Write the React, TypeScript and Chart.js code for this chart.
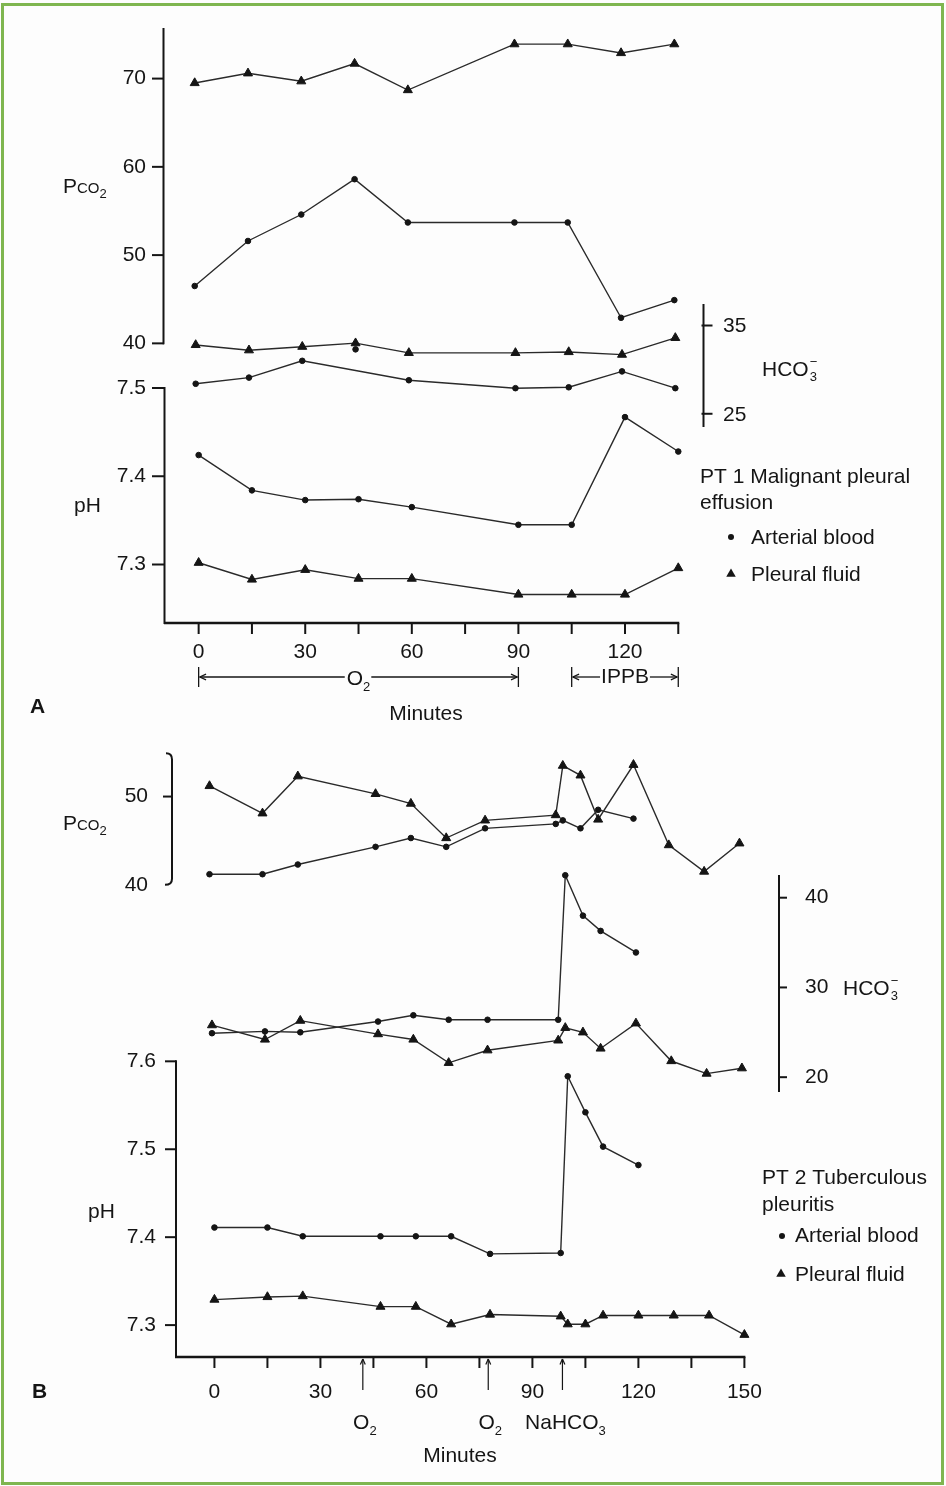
import { useEffect, useRef } from 'react';
import { Chart, registerables } from 'chart.js';

Chart.register(...registerables);

const W = 946;
const H = 1486;
const FONT = '"Liberation Sans", Arial, Helvetica, sans-serif';
const INK = '#151515';
const FS = 21;

// ---------------- Panel A: PT 1 Malignant pleural effusion ----------------
const timesA = [0, 15, 30, 45, 60, 90, 105, 120, 135];
const pco2PleuralA = [69.5, 70.6, 69.7, 71.7, 68.7, 73.9, 73.9, 72.9, 73.9];
const pco2ArterialA = [46.5, 51.6, 54.6, 58.6, 53.7, 53.7, 53.7, 42.9, 44.9];
const hco3PleuralA = [32.8, 32.2, 32.6, 33.0, 31.9, 31.9, 32.0, 31.7, 33.6];
const timesHco3ArterialA = [0, 15, 30, 60, 90, 105, 120, 135];
const hco3ArterialA = [28.4, 29.1, 31.0, 28.8, 27.9, 28.0, 29.8, 27.9];
const timesHco3ArterialAExtra = [45];
const hco3ArterialAExtra = [32.3];
const phArterialA = [7.424, 7.384, 7.373, 7.374, 7.365, 7.345, 7.345, 7.467, 7.428];
const phPleuralA = [7.302, 7.283, 7.294, 7.284, 7.284, 7.266, 7.266, 7.266, 7.296];

const xTickMarksA = [0, 15, 30, 45, 60, 75, 90, 105, 120, 135];
const xTickLabelsA = [0, 30, 60, 90, 120];
const pco2TicksA = [70, 60, 50, 40];
const phTicksA = ['7.5', '7.4', '7.3'];
const hco3TicksA = [35, 25];
const o2SpanA = [0, 90];
const ippbSpanA = [105, 135];

// ---------------- Panel B: PT 2 Tuberculous pleuritis ----------------
const timesPleuralB = [0, 15, 25, 47, 57, 67, 78, 98, 100, 105, 110, 120, 130, 140, 150];
const timesArterialB = [0, 15, 25, 47, 57, 67, 78, 98, 100, 105, 110, 120];
const pco2PleuralB = [51.2, 48.1, 52.3, 50.3, 49.2, 45.3, 47.3, 47.9, 53.5, 52.4, 47.4, 53.6, 44.5, 41.5, 44.7];
const pco2ArterialB = [41.2, 41.2, 42.3, 44.3, 45.3, 44.3, 46.4, 46.9, 47.3, 46.4, 48.5, 47.5];
const hco3PleuralB = [25.8, 24.2, 26.3, 24.8, 24.2, 21.6, 23.0, 24.1, 25.5, 25.0, 23.2, 26.0, 21.8, 20.4, 21.0];
const hco3ArterialB = [24.9, 25.1, 25.0, 26.2, 26.9, 26.4, 26.4, 26.4, 42.5, 38.0, 36.3, 33.9];
const phArterialB = [7.411, 7.411, 7.401, 7.401, 7.401, 7.401, 7.381, 7.382, 7.583, 7.542, 7.503, 7.482];
const phPleuralB = [7.329, 7.332, 7.333, 7.321, 7.321, 7.301, 7.312, 7.310, 7.301, 7.301, 7.311, 7.311, 7.311, 7.311, 7.289];

const xTickMarksB = [0, 15, 30, 45, 60, 75, 90, 105, 120, 135, 150];
const xTickLabelsB = [0, 30, 60, 90, 120, 150];
const pco2TicksB = [50, 40];
const phTicksB = ['7.6', '7.5', '7.4', '7.3'];
const hco3TicksB = [40, 30, 20];
const eventTimesB = [42, 77.5, 98.5];
const eventLabelsB = ['O2', 'O2', 'NaHCO3'];

// ---------------- scale calibration helpers ----------------
function xRange(v1: number, p1: number, v2: number, p2: number) {
  const s = (p2 - p1) / (v2 - v1);
  const min = v1 - p1 / s;
  return { min, max: min + W / s };
}
function yRange(v1: number, p1: number, v2: number, p2: number) {
  const s = (p2 - p1) / (v1 - v2);
  const max = v1 + p1 / s;
  return { min: max - H / s, max };
}
const xs = (r: { min: number; max: number }) => ({ type: 'linear', axis: 'x', position: 'bottom', display: false, ...r });
const ys = (r: { min: number; max: number }) => ({ type: 'linear', axis: 'y', position: 'left', display: false, ...r });

function series(xsArr: number[], ysArr: number[], xAxisID: string, yAxisID: string, marker: 'circle' | 'triangle', showLine = true) {
  return {
    data: xsArr.map((x, i) => ({ x, y: ysArr[i] })),
    xAxisID,
    yAxisID,
    showLine,
    borderColor: '#2a2a2a',
    borderWidth: 1.4,
    tension: 0,
    fill: false,
    pointStyle: marker,
    pointRadius: marker === 'circle' ? 2.8 : 5.2,
    pointBorderWidth: 1,
    pointBackgroundColor: INK,
    pointBorderColor: INK,
  };
}

// ---------------- drawing helpers ----------------
function seg(ctx: CanvasRenderingContext2D, x1: number, y1: number, x2: number, y2: number) {
  ctx.beginPath();
  ctx.moveTo(x1, y1);
  ctx.lineTo(x2, y2);
  ctx.stroke();
}
function txt(ctx: CanvasRenderingContext2D, s: string, x: number, y: number, size = FS, align: CanvasTextAlign = 'left', bold = false) {
  ctx.font = `${bold ? 'bold ' : ''}${size}px ${FONT}`;
  ctx.textAlign = align;
  ctx.textBaseline = 'middle';
  ctx.fillText(s, x, y);
}
type Part = [string, number, number];
function rich(ctx: CanvasRenderingContext2D, parts: Part[], x: number, baseline: number, align: 'left' | 'center' | 'right') {
  const ws = parts.map(([t, s]) => {
    ctx.font = `${s}px ${FONT}`;
    return ctx.measureText(t).width;
  });
  const total = ws.reduce((a, b) => a + b, 0);
  let cx = align === 'left' ? x : align === 'center' ? x - total / 2 : x - total;
  ctx.textAlign = 'left';
  ctx.textBaseline = 'alphabetic';
  parts.forEach(([t, s, dy], i) => {
    ctx.font = `${s}px ${FONT}`;
    ctx.fillText(t, cx, baseline + dy);
    cx += ws[i];
  });
  return total;
}
function hco3Label(ctx: CanvasRenderingContext2D, x: number, cy: number) {
  const base = cy + 7.5;
  const w = rich(ctx, [['HCO', FS, 0]], x, base, 'left');
  ctx.font = `13px ${FONT}`;
  ctx.fillText('3', x + w + 1, base + 5);
  ctx.fillText('\u2212', x + w + 1, base - 10);
}
function pco2Label(ctx: CanvasRenderingContext2D, x: number, cy: number) {
  rich(ctx, [['P', FS, 0], ['CO', 15, 0], ['2', 13, 5]], x, cy + 7.5, 'left');
}
function arrowHead(ctx: CanvasRenderingContext2D, x: number, y: number, dx: number, dy: number, len = 7) {
  const a = Math.atan2(dy, dx);
  for (const off of [0.42, -0.42]) {
    seg(ctx, x, y, x - Math.cos(a + off) * len, y - Math.sin(a + off) * len);
  }
}
function circleMark(ctx: CanvasRenderingContext2D, x: number, y: number, r = 3) {
  ctx.beginPath();
  ctx.arc(x, y, r, 0, Math.PI * 2);
  ctx.fill();
}
function triMark(ctx: CanvasRenderingContext2D, x: number, y: number, r = 5.5) {
  ctx.beginPath();
  ctx.moveTo(x, y - r);
  ctx.lineTo(x + r * 0.866, y + r * 0.5);
  ctx.lineTo(x - r * 0.866, y + r * 0.5);
  ctx.closePath();
  ctx.fill();
}

const figurePlugin = {
  id: 'figure',
  beforeDraw(chart: any) {
    const ctx: CanvasRenderingContext2D = chart.ctx;
    ctx.save();
    ctx.fillStyle = '#fdfdfd';
    ctx.fillRect(0, 0, W, H);
    ctx.restore();
  },
  afterDatasetsDraw(chart: any) {
    const ctx: CanvasRenderingContext2D = chart.ctx;
    const P = (id: string, v: number) => chart.scales[id].getPixelForValue(v);
    ctx.save();
    ctx.lineCap = 'butt';

    // frame
    ctx.strokeStyle = '#7fb650';
    ctx.lineWidth = 3;
    ctx.strokeRect(2.5, 4.5, 940, 1479);

    ctx.strokeStyle = INK;
    ctx.fillStyle = INK;

    // ================= Panel A =================
    ctx.lineWidth = 2;
    // Pco2 axis
    seg(ctx, 163.5, 28, 163.5, P('yPco2A', 40) + 1);
    pco2TicksA.forEach((v) => {
      const y = P('yPco2A', v);
      seg(ctx, 152, y, 164, y);
      txt(ctx, String(v), 146, y, FS, 'right');
    });
    // pH axis
    seg(ctx, 164.5, P('yPhA', 7.5) - 1, 164.5, 624);
    phTicksA.forEach((v) => {
      const y = P('yPhA', Number(v));
      seg(ctx, 152, y, 165, y);
      txt(ctx, v, 146, y, FS, 'right');
    });
    // x axis
    ctx.lineWidth = 2.5;
    seg(ctx, 164, 623, P('xA', 135) + 1, 623);
    ctx.lineWidth = 2;
    xTickMarksA.forEach((t) => {
      const x = P('xA', t);
      seg(ctx, x, 623, x, 634);
    });
    xTickLabelsA.forEach((t) => txt(ctx, String(t), P('xA', t), 652, FS, 'center'));
    // HCO3 axis (right, panel A)
    const hx = 703.5;
    seg(ctx, hx, 304, hx, 427);
    hco3TicksA.forEach((v) => {
      const y = P('yHco3A', v);
      seg(ctx, hx - 2, y, hx + 9, y);
      txt(ctx, String(v), 723, y + 1, FS, 'left');
    });
    hco3Label(ctx, 762, 368);
    // axis titles
    pco2Label(ctx, 63, 185);
    txt(ctx, 'pH', 74, 506, FS, 'left');

    // O2 span
    ctx.lineWidth = 1.3;
    const yS = 677;
    const o0 = P('xA', o2SpanA[0]), o1 = P('xA', o2SpanA[1]);
    seg(ctx, o0, yS - 10, o0, yS + 10);
    seg(ctx, o1, yS - 10, o1, yS + 10);
    const oc = (o0 + o1) / 2;
    const ow = rich(ctx, [['O', FS, 0], ['2', 13, 6]], oc, yS + 7.5, 'center');
    seg(ctx, o0 + 1, yS, oc - ow / 2 - 2, yS);
    seg(ctx, oc + ow / 2 + 1, yS, o1 - 1, yS);
    arrowHead(ctx, o0 + 1, yS, -1, 0);
    arrowHead(ctx, o1 - 1, yS, 1, 0);
    // IPPB span
    const i0 = P('xA', ippbSpanA[0]), i1 = P('xA', ippbSpanA[1]);
    seg(ctx, i0, yS - 10, i0, yS + 10);
    seg(ctx, i1, yS - 10, i1, yS + 10);
    const ic = (i0 + i1) / 2;
    ctx.font = `${FS}px ${FONT}`;
    const iw = ctx.measureText('IPPB').width;
    txt(ctx, 'IPPB', ic, yS, FS, 'center');
    seg(ctx, i0 + 1, yS, ic - iw / 2 - 1, yS);
    seg(ctx, ic + iw / 2 + 1, yS, i1 - 1, yS);
    arrowHead(ctx, i0 + 1, yS, -1, 0);
    arrowHead(ctx, i1 - 1, yS, 1, 0);

    txt(ctx, 'Minutes', 426, 714, FS, 'center');
    txt(ctx, 'A', 30, 707, 21, 'left', true);

    // legend A
    txt(ctx, 'PT 1 Malignant pleural', 700, 477, FS, 'left');
    txt(ctx, 'effusion', 700, 503, FS, 'left');
    circleMark(ctx, 731, 537, 3);
    txt(ctx, 'Arterial blood', 751, 538, FS, 'left');
    triMark(ctx, 731, 574, 5.5);
    txt(ctx, 'Pleural fluid', 751, 575, FS, 'left');

    // ================= Panel B =================
    ctx.lineWidth = 2;
    // Pco2 axis with bracket ends
    const bx = 172;
    ctx.beginPath();
    ctx.moveTo(bx - 6, P('yPco2B', 54.9));
    ctx.quadraticCurveTo(bx, P('yPco2B', 54.9), bx, P('yPco2B', 54.2));
    ctx.lineTo(bx, P('yPco2B', 40.7));
    ctx.quadraticCurveTo(bx, P('yPco2B', 40), bx - 7, P('yPco2B', 40));
    ctx.stroke();
    pco2TicksB.forEach((v) => {
      const y = P('yPco2B', v);
      if (v !== 40) seg(ctx, bx - 9, y, bx, y);
      txt(ctx, String(v), 148, y, FS, 'right');
    });
    pco2Label(ctx, 63, 822);
    // pH axis
    seg(ctx, 176, P('yPhB', 7.6) - 1, 176, 1358);
    phTicksB.forEach((v) => {
      const y = P('yPhB', Number(v));
      seg(ctx, 165, y, 176, y);
      txt(ctx, v, 156, y, FS, 'right');
    });
    txt(ctx, 'pH', 88, 1212, FS, 'left');
    // x axis
    ctx.lineWidth = 2.5;
    seg(ctx, 175, 1357, P('xB', 150) + 1, 1357);
    ctx.lineWidth = 2;
    xTickMarksB.forEach((t) => {
      const x = P('xB', t);
      seg(ctx, x, 1357, x, 1368);
    });
    xTickLabelsB.forEach((t) => txt(ctx, String(t), P('xB', t), 1392, FS, 'center'));
    // HCO3 axis (right, panel B)
    const rx = 779;
    seg(ctx, rx, 875, rx, 1092);
    hco3TicksB.forEach((v) => {
      const y = P('yHco3B', v);
      seg(ctx, rx, y, rx + 8, y);
      txt(ctx, String(v), 805, y, FS, 'left');
    });
    hco3Label(ctx, 843, 987);

    // event arrows
    ctx.lineWidth = 1.2;
    eventTimesB.forEach((t, i) => {
      const x = P('xB', t);
      seg(ctx, x, 1390, x, 1359);
      arrowHead(ctx, x, 1359, 0, -1, 6);
      const lab = eventLabelsB[i];
      const parts: Part[] = lab === 'O2' ? [['O', FS, 0], ['2', 13, 6]] : [['NaHCO', FS, 0], ['3', 13, 6]];
      rich(ctx, parts, lab === 'O2' ? x + 2 : x + 3, 1429, 'center');
    });
    txt(ctx, 'Minutes', 460, 1456, FS, 'center');
    txt(ctx, 'B', 32, 1392, 21, 'left', true);

    // legend B
    txt(ctx, 'PT 2 Tuberculous', 762, 1178, FS, 'left');
    txt(ctx, 'pleuritis', 762, 1205, FS, 'left');
    circleMark(ctx, 782, 1236, 3);
    txt(ctx, 'Arterial blood', 795, 1236, FS, 'left');
    triMark(ctx, 781, 1274, 5.5);
    txt(ctx, 'Pleural fluid', 795, 1275, FS, 'left');

    ctx.restore();
  },
};

export default function App() {
  const ref = useRef<HTMLCanvasElement>(null);
  useEffect(() => {
    const datasets = [
      series(timesA, pco2PleuralA, 'xAup', 'yPco2A', 'triangle'),
      series(timesA, pco2ArterialA, 'xAup', 'yPco2A', 'circle'),
      series(timesA, hco3PleuralA, 'xAmid', 'yHco3A', 'triangle'),
      series(timesHco3ArterialA, hco3ArterialA, 'xAmid', 'yHco3A', 'circle'),
      series(timesHco3ArterialAExtra, hco3ArterialAExtra, 'xAmid', 'yHco3A', 'circle', false),
      series(timesA, phArterialA, 'xA', 'yPhA', 'circle'),
      series(timesA, phPleuralA, 'xA', 'yPhA', 'triangle'),
      series(timesPleuralB, pco2PleuralB, 'xBup', 'yPco2B', 'triangle'),
      series(timesArterialB, pco2ArterialB, 'xBup', 'yPco2B', 'circle'),
      series(timesPleuralB, hco3PleuralB, 'xBmid', 'yHco3B', 'triangle'),
      series(timesArterialB, hco3ArterialB, 'xBmid', 'yHco3B', 'circle'),
      series(timesArterialB, phArterialB, 'xB', 'yPhB', 'circle'),
      series(timesPleuralB, phPleuralB, 'xB', 'yPhB', 'triangle'),
    ];
    const chart = new Chart(ref.current as HTMLCanvasElement, {
      type: 'line',
      data: { datasets } as any,
      options: {
        responsive: false,
        animation: false,
        events: [],
        layout: { padding: 0 },
        plugins: { legend: { display: false }, tooltip: { enabled: false }, title: { display: false } },
        scales: {
          xA: xs(xRange(0, 195, 135, 681)),
          xAmid: xs(xRange(0, 192, 135, 678)),
          xAup: xs(xRange(0, 191, 135, 677)),
          xB: xs(xRange(0, 211, 150, 748)),
          xBmid: xs(xRange(0, 208.5, 150, 745.5)),
          xBup: xs(xRange(0, 206, 150, 743)),
          yPco2A: ys(yRange(70, 73, 40, 340)),
          yHco3A: ys(yRange(35, 322, 25, 411)),
          yPhA: ys(yRange(7.5, 385, 7.3, 563)),
          yPco2B: ys(yRange(50, 797, 40, 886)),
          yHco3B: ys(yRange(40, 899, 20, 1080)),
          yPhB: ys(yRange(7.6, 1064, 7.3, 1330)),
        } as any,
      },
      plugins: [figurePlugin as any],
    });
    return () => chart.destroy();
  }, []);
  return (
    <div style={{ position: 'absolute', left: 0, top: 0, width: W, height: H }}>
      <canvas ref={ref} width={W} height={H} style={{ display: 'block' }} />
    </div>
  );
}
